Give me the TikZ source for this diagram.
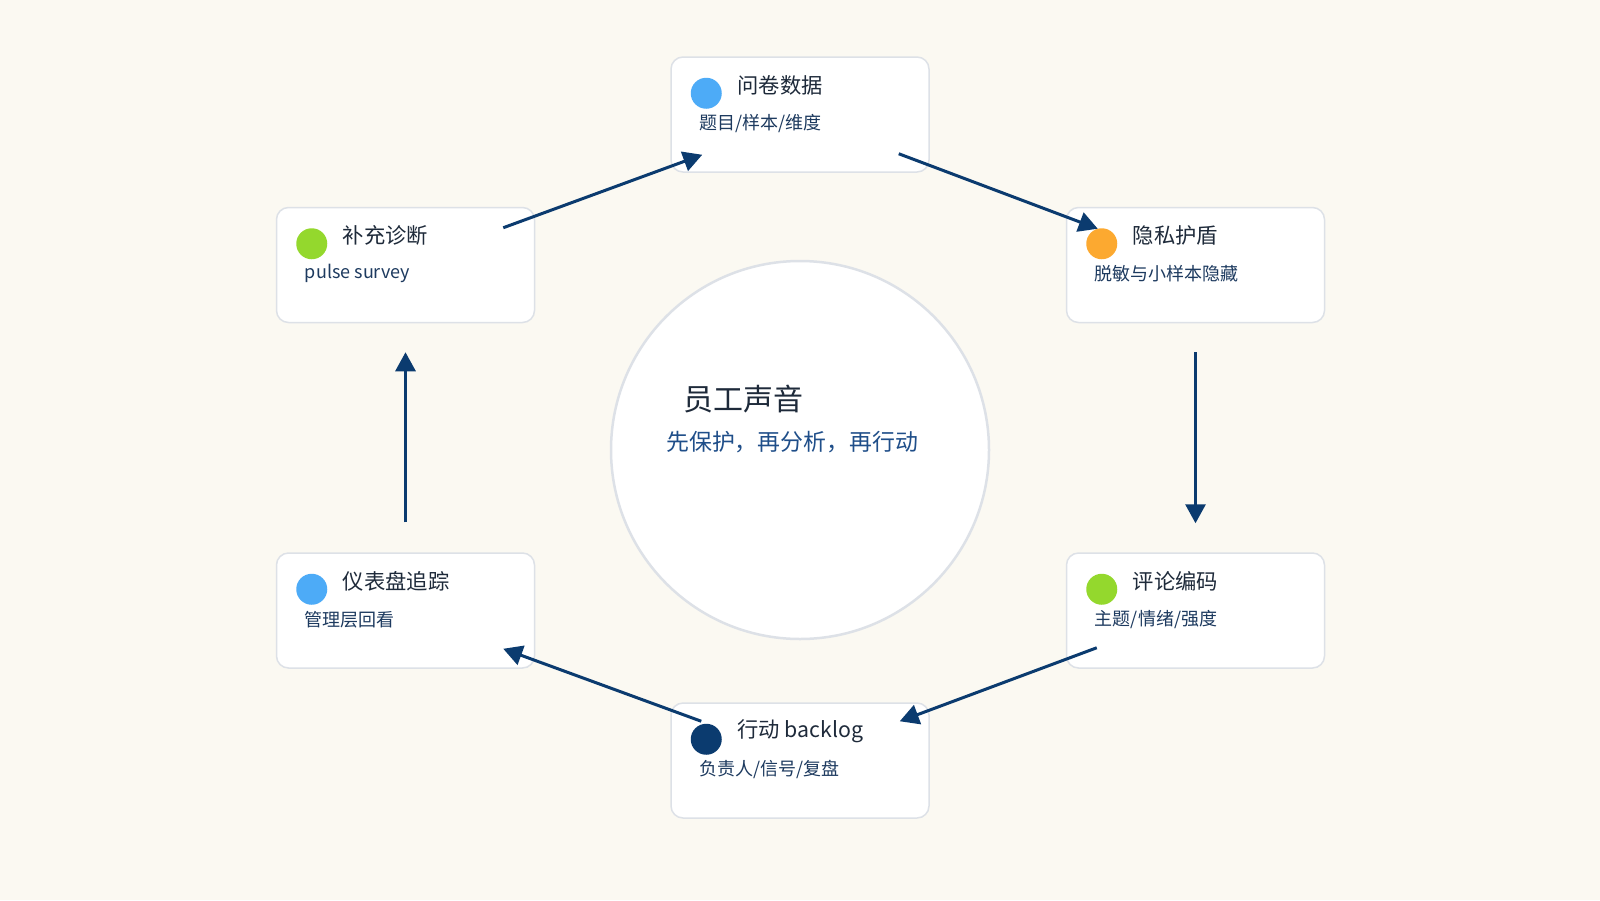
\documentclass[tikz,border=0pt]{standalone}
\usepackage{fontspec}
\setmainfont{Noto Sans CJK SC}
\usepackage{xcolor}
\usepackage{tikz}
\usetikzlibrary{positioning,arrows.meta}
\usetikzlibrary{calc}

\definecolor{pagebg}{HTML}{FBF9F2}
\definecolor{boxline}{HTML}{DDE1E7}
\definecolor{navy}{HTML}{0B3B6F}
\definecolor{titletext}{HTML}{1E2A3A}
\definecolor{subtext}{HTML}{1D3A5F}
\definecolor{mottotext}{HTML}{1F4E89}
\definecolor{dotblue}{HTML}{4DABF7}
\definecolor{dotgreen}{HTML}{94D82D}
\definecolor{dotorange}{HTML}{FCA930}

\begin{document}
\begin{tikzpicture}[
    x=1pt, y=-1pt,
    card/.style={draw=boxline, line width=1.5pt, fill=white, rounded corners=12pt,
                 minimum width=258pt, minimum height=115pt, inner sep=0pt},
    dot/.style={circle, inner sep=0pt, minimum size=31pt},
    cardtitle/.style={anchor=west, inner sep=0pt, text=titletext, font=\fontsize{21.3}{24}\selectfont},
    cardsub/.style={anchor=west, inner sep=0pt, text=subtext, font=\fontsize{18}{20}\selectfont},
    flow/.style={-{Triangle[length=19pt,width=20pt]}, line width=3pt, navy}
]

\fill[pagebg] (0,0) rectangle (1600,900);
\path[use as bounding box] (0,0) rectangle (1600,900);

% centre
\node[circle, draw=boxline, line width=2.5pt, fill=white, minimum size=378pt, inner sep=0pt] (voice) at (800,450) {};
\node[anchor=west, inner sep=0pt, text=titletext, font=\fontsize{30}{34}\selectfont] (voicetitle) at (683,399) {员工声音};
\node[anchor=west, inner sep=0pt, text=mottotext, font=\fontsize{22.9}{26}\selectfont] (voicemotto) at (666,442) {先保护，再分析，再行动};

% cards
\node[card] (survey) at (800,114.5) {};
\node[card] (privacy) at (1195.5,265) {};
\node[card] (coding) at (1195.5,610.5) {};
\node[card] (backlog) at (800,760.5) {};
\node[card] (dashboard) at (405.5,610.5) {};
\node[card] (pulse) at (405.5,265) {};

\foreach \card/\col/\head/\sub in {
    survey/dotblue/问卷数据/{题目/样本/维度},
    privacy/dotorange/隐私护盾/脱敏与小样本隐藏,
    coding/dotgreen/评论编码/{主题/情绪/强度},
    backlog/navy/行动 backlog/{负责人/信号/复盘},
    dashboard/dotblue/仪表盘追踪/管理层回看,
    pulse/dotgreen/补充诊断/pulse survey} {
  \node[dot, fill=\col] (\card dot) at ([xshift=36pt,yshift=-37pt]\card.north west) {};
  \node[cardtitle] (\card title) at ([xshift=67pt,yshift=-29pt]\card.north west) {\head};
  \node[cardsub] (\card sub) at ([xshift=29pt,yshift=-67pt]\card.north west) {\sub};
}

% cycle
\draw[flow] ([xshift=-32pt,yshift=-21pt]pulse.north east) -- ([xshift=32pt,yshift=18pt]survey.south west);
\draw[flow] ([xshift=-31pt,yshift=19pt]survey.south east) -- ([xshift=32pt,yshift=-22pt]privacy.north west);
\draw[flow] ([yshift=-29pt]privacy.south) -- ([yshift=29pt]coding.north);
\draw[flow] ([xshift=31pt,yshift=21pt]coding.south west) -- ([xshift=-30pt,yshift=-19pt]backlog.north east);
\draw[flow] ([xshift=31pt,yshift=-19pt]backlog.north west) -- ([xshift=-32pt,yshift=20pt]dashboard.south east);
\draw[flow] ([yshift=30pt]dashboard.north) -- ([yshift=-29pt]pulse.south);

\end{tikzpicture}
\end{document}
